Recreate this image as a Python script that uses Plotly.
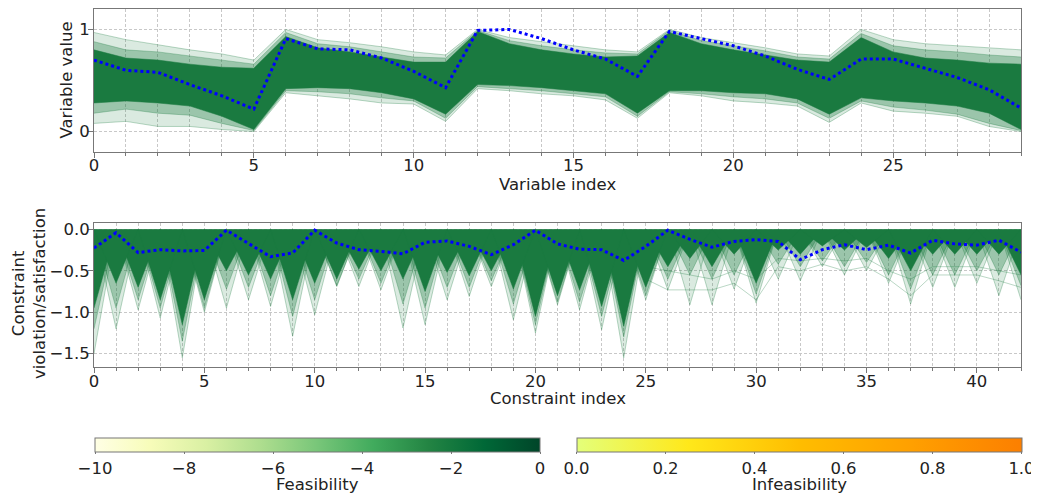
import plotly.graph_objects as go

# ---------------- data ----------------
var_idx = list(range(30))
best_var = [0.70, 0.60, 0.58, 0.46, 0.35, 0.22, 0.91, 0.81, 0.80, 0.72, 0.59, 0.43, 0.99, 1.00, 0.91,
            0.80, 0.71, 0.54, 0.98, 0.91, 0.84, 0.74, 0.61, 0.51, 0.71, 0.71, 0.62, 0.53, 0.41, 0.23]
core_hi = [0.80, 0.72, 0.70, 0.66, 0.63, 0.62, 0.93, 0.82, 0.78, 0.73, 0.68, 0.68, 0.98, 0.86, 0.80,
           0.76, 0.73, 0.74, 0.97, 0.86, 0.80, 0.75, 0.70, 0.68, 0.92, 0.78, 0.72, 0.70, 0.67, 0.66]
core_lo = [0.28, 0.30, 0.28, 0.25, 0.15, 0.02, 0.42, 0.43, 0.42, 0.38, 0.32, 0.17, 0.46, 0.45, 0.43,
           0.40, 0.37, 0.18, 0.40, 0.40, 0.38, 0.37, 0.32, 0.17, 0.33, 0.30, 0.28, 0.25, 0.18, 0.02]
mid_hi = [0.88, 0.80, 0.78, 0.74, 0.70, 0.66, 0.97, 0.86, 0.83, 0.78, 0.73, 0.72, 0.99, 0.89, 0.84,
          0.80, 0.77, 0.76, 0.99, 0.89, 0.84, 0.79, 0.73, 0.71, 0.96, 0.84, 0.80, 0.78, 0.75, 0.73]
mid_lo = [0.18, 0.22, 0.18, 0.16, 0.08, 0.01, 0.40, 0.39, 0.37, 0.33, 0.30, 0.13, 0.44, 0.42, 0.40,
          0.37, 0.34, 0.15, 0.39, 0.37, 0.34, 0.32, 0.28, 0.13, 0.30, 0.24, 0.21, 0.17, 0.08, 0.01]
outer_hi = [0.97, 0.90, 0.85, 0.80, 0.76, 0.70, 1.00, 0.90, 0.87, 0.83, 0.78, 0.75, 1.00, 0.92, 0.88,
            0.84, 0.80, 0.78, 1.00, 0.92, 0.87, 0.82, 0.76, 0.74, 1.00, 0.90, 0.86, 0.84, 0.82, 0.80]
outer_lo = [0.08, 0.10, 0.05, 0.05, 0.02, 0.00, 0.38, 0.35, 0.32, 0.28, 0.27, 0.10, 0.42, 0.40, 0.37,
            0.35, 0.31, 0.13, 0.38, 0.35, 0.30, 0.28, 0.25, 0.09, 0.28, 0.20, 0.18, 0.15, 0.05, 0.00]

con_idx = list(range(43))
best_con = [-0.225, -0.04, -0.28, -0.245, -0.26, -0.255, -0.01, -0.165, -0.33, -0.285, -0.01, -0.165,
            -0.245, -0.265, -0.295, -0.155, -0.14, -0.205, -0.305, -0.185, -0.01, -0.175, -0.24,
            -0.245, -0.375, -0.205, -0.01, -0.12, -0.215, -0.145, -0.125, -0.145, -0.365, -0.245,
            -0.185, -0.245, -0.19, -0.285, -0.13, -0.175, -0.19, -0.13, -0.275]
dense_min = [-0.95, -0.65, -0.70, -0.85, -1.15, -0.85, -0.50, -0.55, -0.60, -0.85, -0.65, -0.60,
             -0.48, -0.50, -0.60, -0.75, -0.52, -0.56, -0.50, -0.72, -1.05, -0.80, -0.73, -0.93,
             -1.17, -0.70, -0.45, -0.35, -0.45, -0.30, -0.65, -0.25, -0.30, -0.20, -0.25, -0.22,
             -0.35, -0.50, -0.30, -0.30, -0.30, -0.30, -0.55]
mid_min = [-1.20, -0.95, -0.85, -0.95, -1.35, -0.95, -0.72, -0.70, -0.80, -1.05, -0.85, -0.68,
           -0.60, -0.65, -0.90, -0.95, -0.70, -0.70, -0.62, -0.90, -1.15, -0.88, -0.88, -1.05,
           -1.30, -0.80, -0.60, -0.55, -0.60, -0.55, -0.78, -0.42, -0.45, -0.38, -0.45, -0.40,
           -0.55, -0.72, -0.55, -0.55, -0.50, -0.55, -0.68]
outer_min = [-1.50, -1.20, -0.97, -1.07, -1.55, -1.00, -0.95, -0.85, -0.93, -1.29, -1.03, -0.69,
             -0.69, -0.73, -1.19, -1.15, -0.85, -0.81, -0.69, -1.09, -1.25, -0.91, -0.97, -1.21,
             -1.55, -0.85, -0.73, -0.91, -0.91, -0.72, -0.89, -0.60, -0.62, -0.45, -0.55, -0.50,
             -0.65, -0.90, -0.70, -0.70, -0.65, -0.80, -0.85]
spread_idx = list(range(25, 43))
spread_a = [-0.45, -0.50, -0.55, -0.60, -0.50, -0.60, -0.35, -0.38, -0.35, -0.38, -0.35, -0.50,
            -0.60, -0.45, -0.45, -0.45, -0.50, -0.55]
spread_b = [-0.60, -0.73, -0.73, -0.73, -0.65, -0.85, -0.45, -0.50, -0.42, -0.50, -0.45, -0.60,
            -0.80, -0.55, -0.55, -0.55, -0.62, -0.70]

feas_ticks = [-10, -8, -6, -4, -2, 0]
infeas_ticks = [0.0, 0.2, 0.4, 0.6, 0.8, 1.0]

# ---------------- style / geometry ----------------
DENSE = "rgb(26,122,64)"
LINE_FAINT = "rgba(26,122,64,0.30)"
FILL_OUTER = "rgba(26,122,64,0.16)"
FILL_MID = "rgba(26,122,64,0.33)"
GRID = "#c8c8c8"
GDASH = "3px,2px"
AXC = "#777777"
TXT = "#222222"
FONT = "DejaVu Sans, sans-serif"
FS = 16.5

# page shows the figure offset by the default 8px body margin
OFF = 8
W, H = 1039 - OFF, 498 - OFF


def px(xp):
    return (xp - OFF) / W


def py(yp):
    return 1 - (yp - OFF) / H


YLGN = [[0.0, "rgb(255,255,229)"], [0.125, "rgb(247,252,185)"], [0.25, "rgb(217,240,163)"],
        [0.375, "rgb(173,221,142)"], [0.5, "rgb(120,198,121)"], [0.625, "rgb(65,171,93)"],
        [0.75, "rgb(35,132,67)"], [0.875, "rgb(0,104,55)"], [1.0, "rgb(0,69,41)"]]
WISTIA = [[0.0, "#e4ff7a"], [0.25, "#ffe81a"], [0.5, "#ffbd00"], [0.75, "#ffa000"], [1.0, "#fc7f00"]]

fig = go.Figure()


def line(x, y, color, w=1.0, xa="x", ya="y", **kw):
    fig.add_trace(go.Scatter(x=x, y=y, mode="lines", line=dict(color=color, width=w),
                             xaxis=xa, yaxis=ya, showlegend=False, hoverinfo="skip", **kw))


# ---- top: variables ----
line(var_idx, outer_lo, LINE_FAINT)
line(var_idx, outer_hi, LINE_FAINT, fill="tonexty", fillcolor=FILL_OUTER)
line(var_idx, mid_lo, LINE_FAINT)
line(var_idx, mid_hi, LINE_FAINT, fill="tonexty", fillcolor=FILL_MID)
line(var_idx, core_lo, DENSE, 0.5)
line(var_idx, core_hi, DENSE, 0.5, fill="tonexty", fillcolor=DENSE)
fig.add_trace(go.Scatter(x=var_idx, y=best_var, mode="lines",
                         line=dict(color="blue", width=3, dash="dot"),
                         showlegend=False, hoverinfo="skip"))


# ---- bottom: constraints ----
def saw(levels, parity):
    return [v if i % 2 == parity else 0.0 for i, v in enumerate(levels)]


for p in (0, 1):
    line(con_idx, saw(outer_min, p), LINE_FAINT, 1.0, "x2", "y2", fill="tozeroy",
         fillcolor=FILL_OUTER)
for p in (0, 1):
    line(con_idx, saw(mid_min, p), LINE_FAINT, 1.0, "x2", "y2", fill="tozeroy",
         fillcolor=FILL_MID)
for arr in (spread_a, spread_b):
    line(spread_idx, arr, LINE_FAINT, 1.0, "x2", "y2")
for p in (0, 1):
    line(con_idx, saw(dense_min, p), DENSE, 0.5, "x2", "y2", fill="tozeroy", fillcolor=DENSE)
fig.add_trace(go.Scatter(x=con_idx, y=best_con, mode="lines",
                         line=dict(color="blue", width=3, dash="dot"),
                         xaxis="x2", yaxis="y2", showlegend=False, hoverinfo="skip"))

# ---- colorbars ----
cb_common = dict(orientation="h", lenmode="pixels", len=445, thicknessmode="pixels", thickness=14,
                 xanchor="center", yanchor="top", y=py(438), xpad=0, ypad=0,
                 outlinecolor=AXC, outlinewidth=1, ticks="outside", ticklen=2, tickcolor=AXC,
                 tickfont=dict(size=FS, color=TXT))
fig.add_trace(go.Scatter(x=[0], y=[0.5], mode="markers", showlegend=False, hoverinfo="skip",
                         marker=dict(size=1, opacity=0, color=[-1], cmin=-10, cmax=0,
                                     colorscale=YLGN, showscale=True,
                                     colorbar=dict(cb_common, x=px(317.5), tickvals=feas_ticks))))
fig.add_trace(go.Scatter(x=[0], y=[0.5], mode="markers", showlegend=False, hoverinfo="skip",
                         marker=dict(size=1, opacity=0, color=[0.5], cmin=0, cmax=1,
                                     colorscale=WISTIA, showscale=True,
                                     colorbar=dict(cb_common, x=px(799), tickvals=infeas_ticks,
                                                   tickformat=".1f"))))

axis_common = dict(showline=True, mirror=True, linecolor=AXC, linewidth=1, ticks="outside",
                   ticklen=5, tickcolor=AXC, showgrid=True, gridcolor=GRID, griddash=GDASH,
                   gridwidth=1, zeroline=False, tickfont=dict(size=FS, color=TXT),
                   automargin=False)
xminor = dict(tickmode="linear", tick0=0, dtick=1, ticks="outside", ticklen=3, tickcolor=AXC,
              showgrid=True, gridcolor=GRID, griddash=GDASH, gridwidth=1)

XD = [px(94), px(1021)]


def title(text, xp, yp, angle=0):
    return dict(text=text, x=px(xp), y=py(yp), xref="paper", yref="paper", showarrow=False,
                xanchor="center", yanchor="middle", textangle=angle,
                font=dict(size=FS, color=TXT, family=FONT))


fig.update_layout(
    width=W, height=H, margin=dict(l=0, r=0, t=0, b=0, autoexpand=False),
    paper_bgcolor="white", plot_bgcolor="white",
    font=dict(family=FONT, size=FS, color=TXT),
    xaxis=dict(axis_common, domain=XD, range=[0, 29], tickmode="linear", tick0=0,
               dtick=5, minor=xminor, anchor="y", ticklabelstandoff=-7),
    yaxis=dict(axis_common, domain=[py(152), py(9)], range=[-0.2, 1.2],
               tickvals=[0, 1], anchor="x", ticklabelstandoff=-5),
    xaxis2=dict(axis_common, domain=XD, range=[0, 42], tickmode="linear", tick0=0,
                dtick=5, minor=xminor, anchor="y2", ticklabelstandoff=-6),
    yaxis2=dict(axis_common, domain=[py(366.7), py(223)], range=[-1.657, 0.077],
                tickvals=[0, -0.5, -1.0, -1.5], tickformat=".1f", anchor="x2",
                ticklabelstandoff=-5),
    annotations=[
        title("Variable index", 557, 184),
        title("Constraint index", 558, 398),
        title("Variable value", 66, 80.5, -90),
        title("Constraint<br>violation/satisfaction", 29, 294, -90),
        title("Feasibility", 317.5, 484),
        title("Infeasibility", 799, 484),
    ],
)

fig.write_html("out.html")
